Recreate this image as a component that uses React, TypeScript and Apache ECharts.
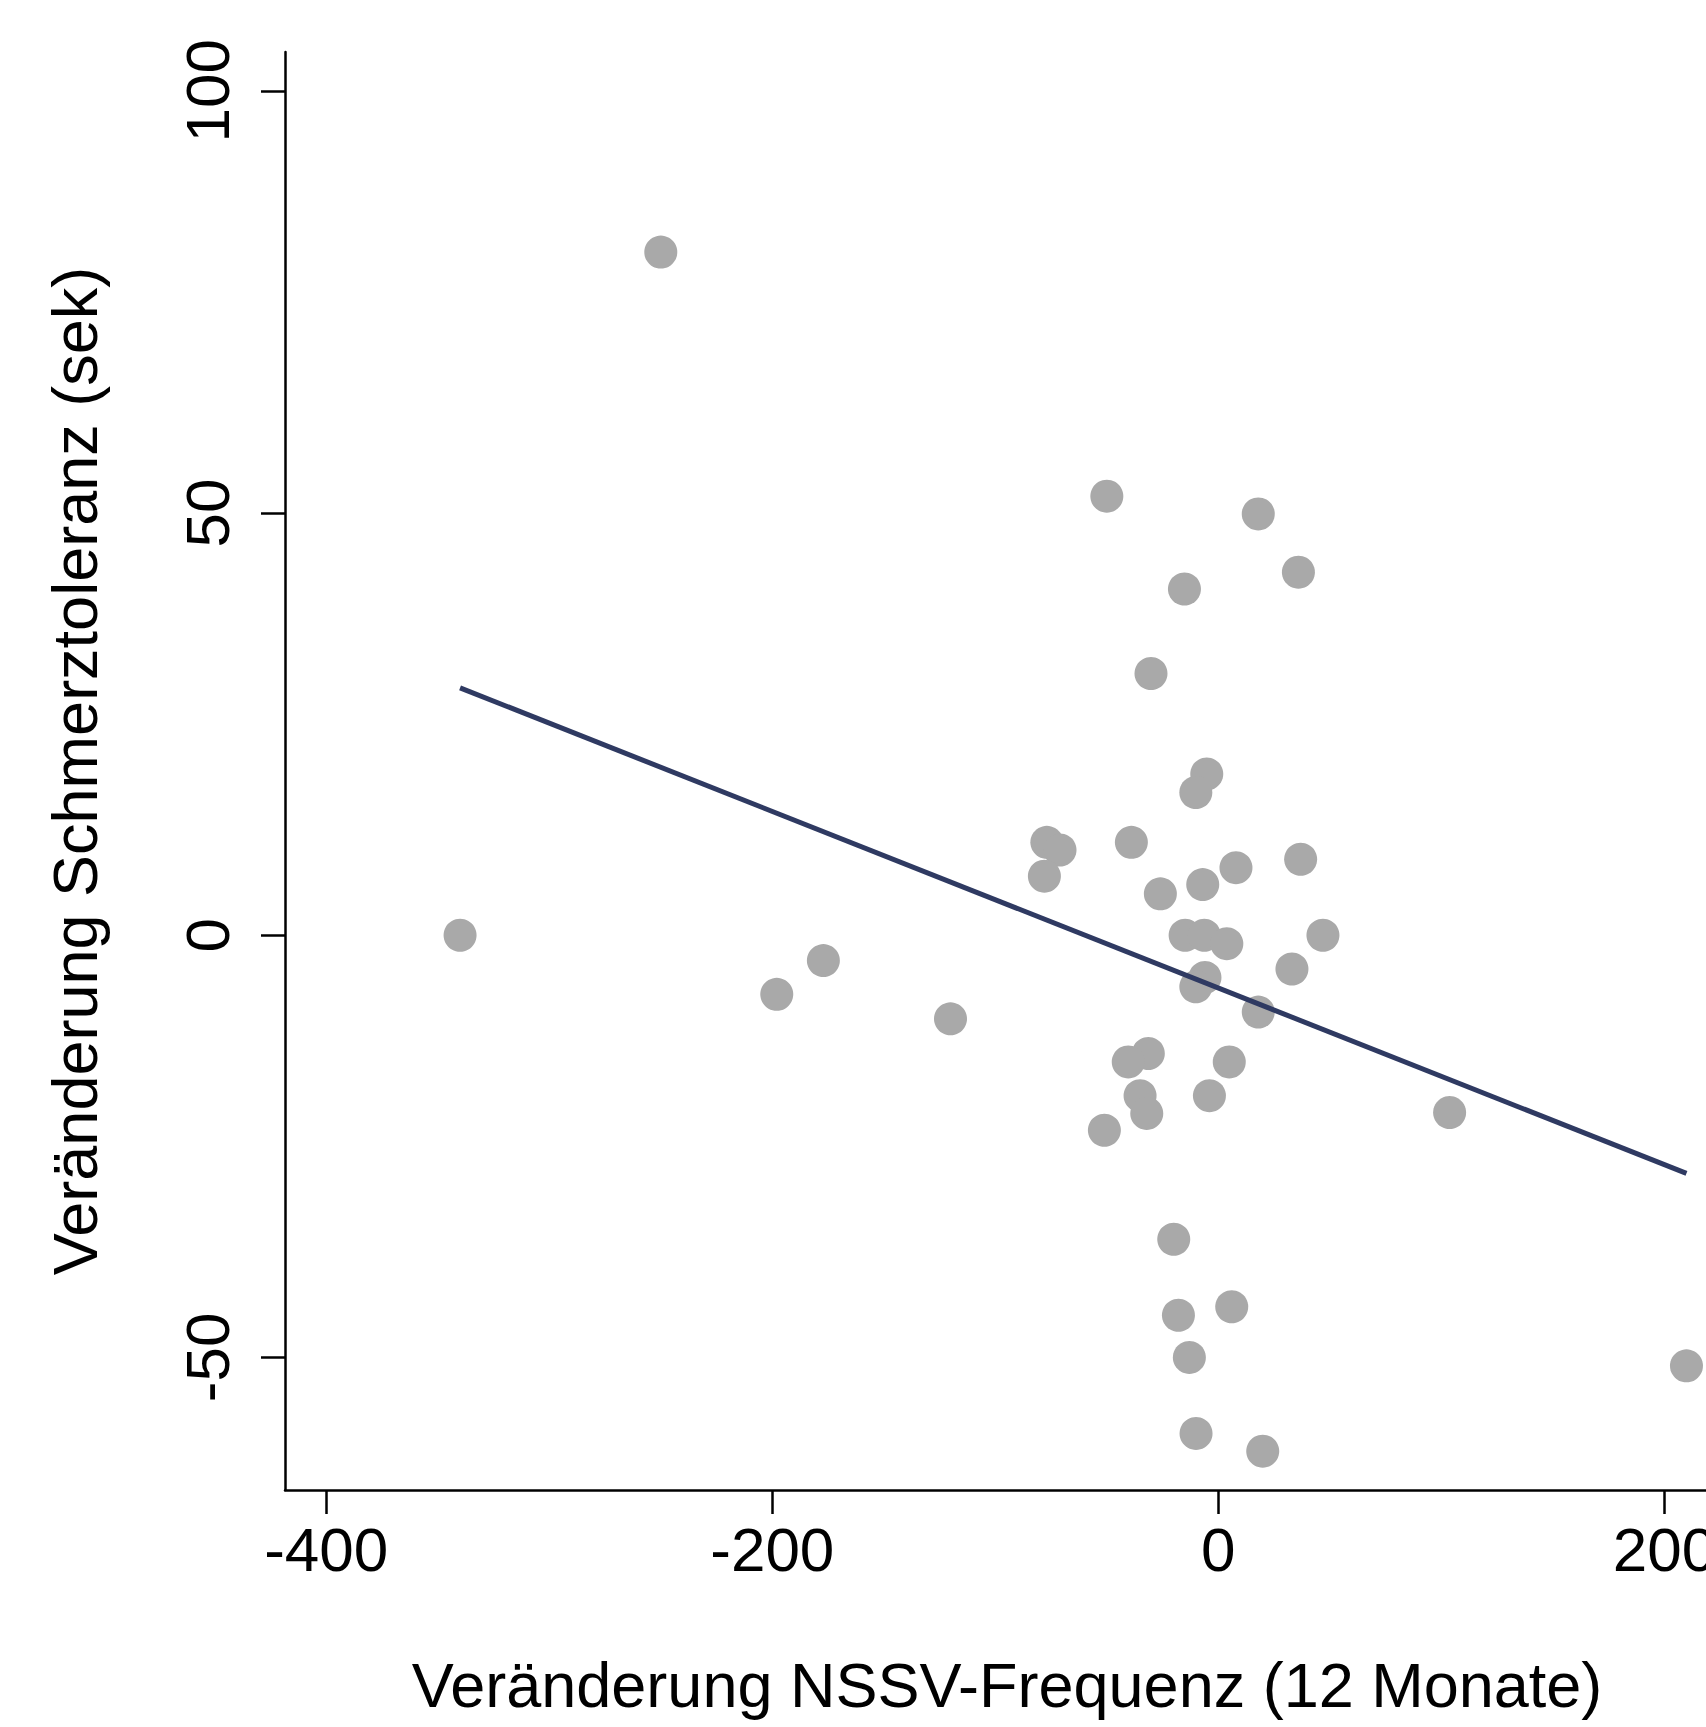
import React, { useEffect, useRef } from "react";
import * as echarts from "echarts";

// Change in NSSV frequency (12 months) — x
const xValues = [
  -250.0, -340.0, -177.1, -198.0, -120.1, -76.9, -71.0, -78.0, -50.0, 17.9,
  35.9, -15.2, -30.2, -5.2, -10.1, -39.0, 36.9, 7.9, -7.0, -26.0,
  -14.9, -6.3, 3.8, 46.9, 33.0, -6.0, -10.1, 17.9, -31.4, -40.4,
  4.9, -35.1, -32.1, -4.0, -51.1, 103.7, -20.0, -17.9, 6.0, -13.0,
  -10.0, 19.9, 209.9,
];
// Change in pain tolerance (sec) — y
const yValues = [
  80.9, 0.0, -3.0, -7.0, -9.9, 11.0, 10.1, 7.0, 52.0, 49.9,
  43.0, 41.0, 31.0, 19.1, 16.9, 11.0, 9.0, 8.0, 6.0, 4.9,
  0.0, 0.0, -1.0, 0.0, -4.0, -5.0, -6.1, -9.1, -14.0, -15.0,
  -15.0, -19.0, -21.1, -19.0, -23.1, -21.0, -36.0, -45.0, -44.0, -50.0,
  -59.0, -61.1, -51.0,
];
// Fitted regression line end points
const fitX = [-340.0, 209.9];
const fitY = [29.3, -28.2];

const xTicks = [-400, -200, 0, 200];
const yTicks = [-50, 0, 50, 100];

const xTitle = "Veränderung NSSV-Frequenz (12 Monate)";
const yTitle = "Veränderung Schmerztoleranz (sek)";

const FONT = "'Liberation Sans', Arial, Helvetica, sans-serif";

export default function App() {
  const ref = useRef<HTMLDivElement>(null);

  useEffect(() => {
    if (!ref.current) return;
    const chart = echarts.init(ref.current, undefined, { renderer: "svg" });
    const points = xValues.map((x, i) => [x, yValues[i]]);
    const fit = fitX.map((x, i) => [x, fitY[i]]);
    const axisLine = { show: true, onZero: false, lineStyle: { color: "#000", width: 2.5 } };
    const axisTickBase = { show: true, length: 24, lineStyle: { color: "#000", width: 2.5 } };
    chart.setOption({
      animation: false,
      backgroundColor: "#ffffff",
      grid: {
        left: 285,
        top: 52,
        width: 1513.2,
        height: 1438,
        containLabel: false,
        outerBoundsMode: "none",
      },
      xAxis: {
        type: "value",
        min: -418.5,
        max: 260,
        axisLine,
        axisTick: { ...axisTickBase, customValues: xTicks },
        axisLabel: {
          customValues: xTicks,
          fontSize: 62,
          fontFamily: FONT,
          color: "#000",
          margin: 28,
        },
        splitLine: { show: false },
      },
      yAxis: {
        type: "value",
        min: -65.7,
        max: 104.6,
        axisLine,
        axisTick: { ...axisTickBase, customValues: yTicks },
        axisLabel: {
          customValues: yTicks,
          rotate: 90,
          fontSize: 62,
          fontFamily: FONT,
          color: "#000",
          margin: 47,
        },
        splitLine: { show: false },
      },
      graphic: [
        {
          type: "text",
          x: 1007,
          y: 1685,
          style: {
            text: xTitle,
            fontSize: 63,
            fontFamily: FONT,
            fill: "#000",
            align: "center",
            verticalAlign: "middle",
          },
        },
        {
          type: "text",
          x: 75,
          y: 771,
          rotation: Math.PI / 2,
          style: {
            text: yTitle,
            fontSize: 63,
            fontFamily: FONT,
            fill: "#000",
            align: "center",
            verticalAlign: "middle",
          },
        },
      ],
      series: [
        {
          type: "scatter",
          data: points,
          symbol: "circle",
          symbolSize: 33,
          itemStyle: { color: "#a9a9a9", opacity: 1 },
          z: 2,
        },
        {
          type: "line",
          data: fit,
          symbol: "none",
          lineStyle: { color: "#2f3a62", width: 5 },
          z: 3,
        },
      ],
    });
    return () => chart.dispose();
  }, []);

  return (
    <div
      style={{
        position: "fixed",
        left: 0,
        top: 0,
        width: 1706,
        height: 1727,
        overflow: "hidden",
        background: "#fff",
      }}
    >
      <div ref={ref} style={{ width: 1900, height: 1727 }} />
    </div>
  );
}
